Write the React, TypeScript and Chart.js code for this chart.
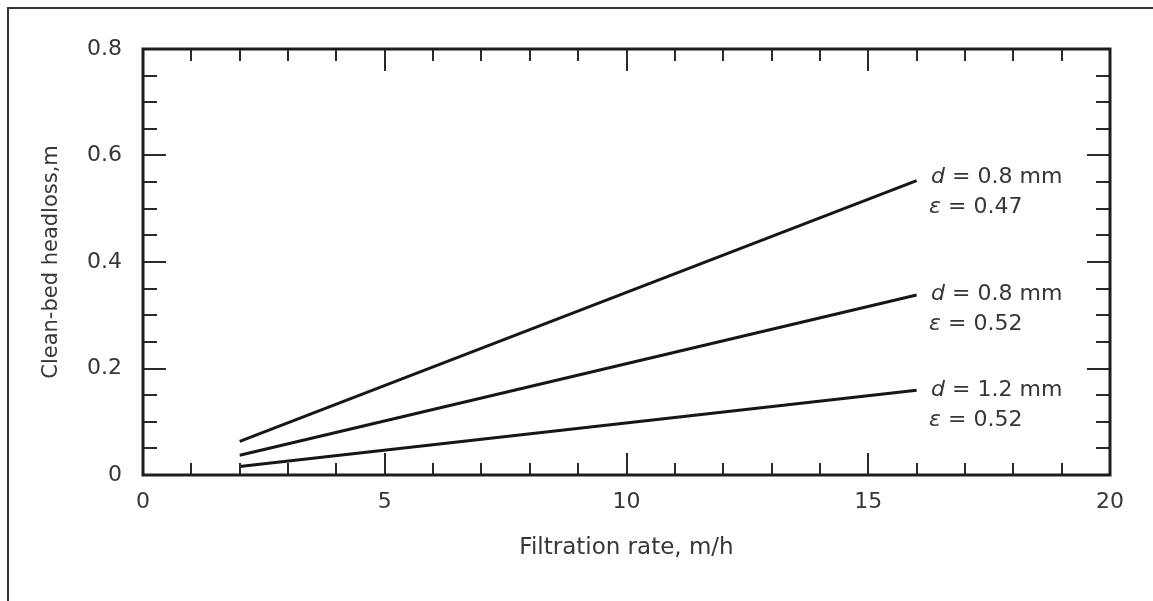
import React, { useEffect, useRef } from 'react';
import { Chart, registerables } from 'chart.js';

Chart.register(...registerables);

// ---- data ----
const filtrationRate = [2, 16]; // m/h
const headlossD08E047 = [0.063, 0.553]; // d = 0.8 mm, ε = 0.47
const headlossD08E052 = [0.037, 0.338]; // d = 0.8 mm, ε = 0.52
const headlossD12E052 = [0.016, 0.159]; // d = 1.2 mm, ε = 0.52

const diameterLabels = ['0.8 mm', '0.8 mm', '1.2 mm'];
const porosityLabels = ['0.47', '0.52', '0.52'];
const labelAnchorX = 16.3;
const labelAnchorY = [0.56, 0.34, 0.16];

const xMajorTicks = [0, 5, 10, 15, 20];
const yMajorTicks = [0, 0.2, 0.4, 0.6, 0.8];
const xMinorCount = 20; // minor tick every 1 m/h
const yMinorCount = 16; // minor tick every 0.05 m

const xTitle = 'Filtration rate, m/h';
const yTitle = 'Clean-bed headloss,m';

const FONT = '"DejaVu Sans", "Liberation Sans", sans-serif';
const TEXT = '#363636';
const INK = '#161616';

const frameAndTicks = {
  id: 'frameAndTicks',
  afterDatasetsDraw(chart: any) {
    const { ctx, chartArea: a, scales } = chart;
    const xs = scales.x;
    const ys = scales.y;
    ctx.save();
    ctx.strokeStyle = '#2a2a2a';
    ctx.lineWidth = 2;
    ctx.beginPath();
    const xMin = xs.min, xMax = xs.max;
    for (let i = 0; i <= xMinorCount; i++) {
      const v = xMin + ((xMax - xMin) * i) / xMinorCount;
      const px = Math.round(xs.getPixelForValue(v));
      const major = xMajorTicks.some((t) => Math.abs(t - v) < 1e-9);
      const len = major ? 22 : 12;
      ctx.moveTo(px, a.bottom);
      ctx.lineTo(px, a.bottom - len);
      ctx.moveTo(px, a.top);
      ctx.lineTo(px, a.top + len);
    }
    const yMin = ys.min, yMax = ys.max;
    for (let i = 0; i <= yMinorCount; i++) {
      const v = yMin + ((yMax - yMin) * i) / yMinorCount;
      const py = Math.round(ys.getPixelForValue(v));
      const major = yMajorTicks.some((t) => Math.abs(t - v) < 1e-9);
      const len = major ? 23 : 14;
      ctx.moveTo(a.left, py);
      ctx.lineTo(a.left + len, py);
      ctx.moveTo(a.right, py);
      ctx.lineTo(a.right - len, py);
    }
    ctx.stroke();
    ctx.lineWidth = 3;
    ctx.strokeStyle = '#1e1e1e';
    ctx.strokeRect(a.left, a.top, a.right - a.left, a.bottom - a.top);
    ctx.restore();
  },
};

function drawRich(ctx: CanvasRenderingContext2D, x: number, y: number, parts: [string, boolean][]) {
  let cx = x;
  for (const [t, italic] of parts) {
    ctx.font = `${italic ? 'italic ' : ''}22px ${FONT}`;
    ctx.fillText(t, cx, y);
    cx += ctx.measureText(t).width;
  }
}

const curveLabels = {
  id: 'curveLabels',
  afterDatasetsDraw(chart: any) {
    const { ctx, scales } = chart;
    ctx.save();
    ctx.fillStyle = TEXT;
    ctx.textBaseline = 'middle';
    ctx.textAlign = 'left';
    labelAnchorY.forEach((v, i) => {
      const px = scales.x.getPixelForValue(labelAnchorX);
      const py = scales.y.getPixelForValue(v);
      drawRich(ctx, px, py, [['d', true], [' = ' + diameterLabels[i], false]]);
      drawRich(ctx, px - 2, py + 30, [['ε', true], [' = ' + porosityLabels[i], false]]);
    });
    ctx.restore();
  },
};

function makeSeries(ys: number[]) {
  return filtrationRate.map((x, i) => ({ x, y: ys[i] }));
}

export default function App() {
  const ref = useRef<HTMLCanvasElement>(null);

  useEffect(() => {
    const lineStyle = {
      borderColor: INK,
      borderWidth: 3,
      pointRadius: 0,
      fill: false,
      tension: 0,
    };
    const chart = new Chart(ref.current as HTMLCanvasElement, {
      type: 'line',
      data: {
        datasets: [
          { label: 'd = 0.8 mm, ε = 0.47', data: makeSeries(headlossD08E047), ...lineStyle },
          { label: 'd = 0.8 mm, ε = 0.52', data: makeSeries(headlossD08E052), ...lineStyle },
          { label: 'd = 1.2 mm, ε = 0.52', data: makeSeries(headlossD12E052), ...lineStyle },
        ],
      },
      options: {
        animation: false,
        responsive: false,
        devicePixelRatio: 1,
        layout: { padding: { left: 0, top: 49, right: 43, bottom: 0 } },
        plugins: {
          legend: { display: false },
          tooltip: { enabled: false },
        },
        scales: {
          x: {
            type: 'linear',
            position: 'bottom',
            min: 0,
            max: 20,
            grid: { display: false },
            border: { display: false },
            afterBuildTicks: (s: any) => {
              s.ticks = xMajorTicks.map((value) => ({ value }));
            },
            afterFit: (s: any) => {
              s.height = 126;
            },
            ticks: {
              color: TEXT,
              font: { family: FONT, size: 22 },
              padding: 6,
              maxRotation: 0,
              autoSkip: false,
            },
            title: {
              display: true,
              text: xTitle,
              color: TEXT,
              font: { family: FONT, size: 23 },
              padding: { top: 0, bottom: 39 },
            },
          },
          y: {
            type: 'linear',
            position: 'left',
            min: 0,
            max: 0.8,
            grid: { display: false },
            border: { display: false },
            afterBuildTicks: (s: any) => {
              s.ticks = yMajorTicks.map((value) => ({ value }));
            },
            afterFit: (s: any) => {
              s.width = 143;
            },
            ticks: {
              color: TEXT,
              font: { family: FONT, size: 22 },
              padding: 13,
              autoSkip: false,
            },
            title: {
              display: true,
              text: yTitle,
              color: TEXT,
              font: { family: FONT, size: 21 },
              padding: { top: 39, bottom: 0 },
            },
          },
        },
      },
      plugins: [frameAndTicks, curveLabels],
    } as any);
    return () => chart.destroy();
  }, []);

  return (
    <div
      style={{
        position: 'fixed',
        left: 0,
        top: 0,
        width: 1153,
        height: 601,
        background: '#ffffff',
        overflow: 'hidden',
      }}
    >
      <div
        style={{
          position: 'absolute',
          left: 7,
          top: 7,
          right: -20,
          bottom: -20,
          borderLeft: '2px solid #333',
          borderTop: '2px solid #333',
        }}
      />
      <canvas
        ref={ref}
        width={1153}
        height={601}
        style={{ position: 'absolute', left: 0, top: 0, width: 1153, height: 601 }}
      />
    </div>
  );
}
